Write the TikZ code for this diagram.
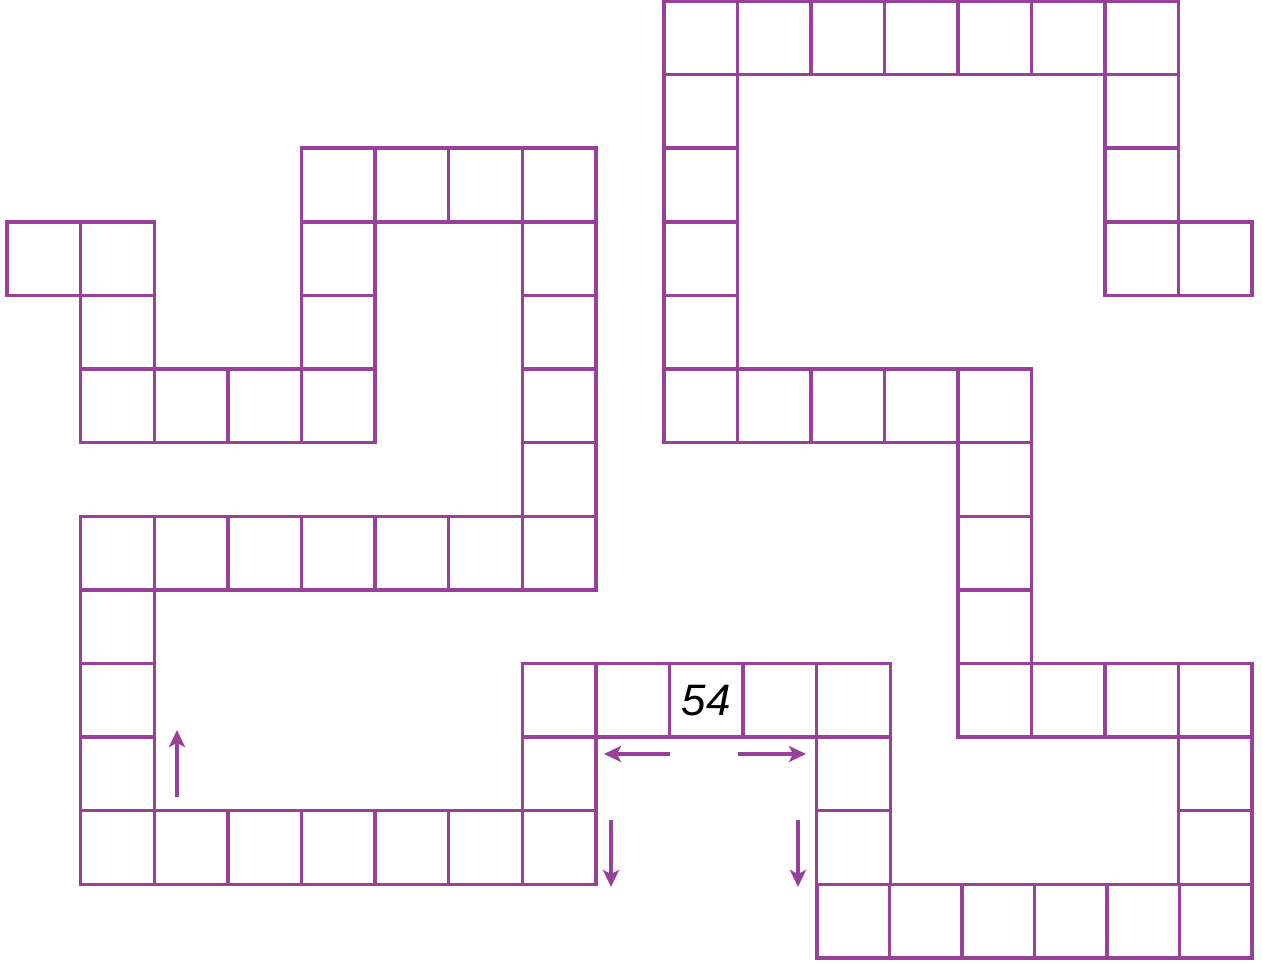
\documentclass[tikz,border=0pt]{standalone}
\usepackage{fontspec}
\newfontfamily\digitfont{Liberation Sans}
\usepackage{tikz}
\usetikzlibrary{arrows.meta,positioning}
\definecolor{boardpurple}{RGB}{153,64,155}

\begin{document}
\begin{tikzpicture}[
    x=1pt, y=-1pt,
    cell/.style={
        draw=boardpurple,
        line width=3.4pt,
        minimum width=73.6pt,
        minimum height=73.6pt,
        inner sep=0pt,
        outer sep=0pt,
        anchor=north west
    },
    narrowcell/.style={
        cell,
        minimum width=72.5pt
    },
    arr/.style={-{Stealth[length=17pt, width=16pt, inset=4pt]}, draw=boardpurple, line width=3.2pt}
]
    \useasboundingbox (0,0) rectangle (1262,963);

    %% Linke Haelfte des Spielfelds
    \foreach \c/\r in {0/3, 1/3, 1/4, 1/5, 2/5, 3/5, 4/5, 4/4, 4/3, 4/2, 5/2, 6/2, 7/2,
                       7/3, 7/4, 7/5, 7/6, 7/7, 6/7, 5/7, 4/7, 3/7, 2/7, 1/7,
                       1/8, 1/9, 1/10, 1/11, 2/11, 3/11, 4/11, 5/11, 6/11, 7/11,
                       7/10, 7/9, 8/9, 10/9, 11/9, 11/10, 11/11}
        \node[cell] (L-\c-\r) at ({7+73.6*\c}, {1+73.6*\r}) {};

    %% Feld mit Zahl
    \node[cell] (L-9-9) at ({7+73.6*9}, {1+73.6*9}) {};
    \node[font=\digitfont\itshape\fontsize{44}{44}\selectfont] (start) at (L-9-9.center) {54};

    %% Rechte Haelfte des Spielfelds
    \foreach \k/\r in {0/0, 1/0, 2/0, 3/0, 4/0, 5/0, 6/0, 6/1, 6/2, 6/3, 7/3,
                       0/1, 0/2, 0/3, 0/4, 0/5, 1/5, 2/5, 3/5, 4/5,
                       4/6, 4/7, 4/8, 4/9, 5/9, 6/9, 7/9, 7/10, 7/11}
        \node[cell] (R-\k-\r) at ({664+73.5*\k}, {1+73.6*\r}) {};

    %% Unterste Reihe
    \foreach \i in {0,...,5}
        \node[narrowcell] (B-\i) at ({817+72.5*\i}, 884.2) {};

    %% Pfeile
    \coordinate (leftfrom) at (670,754);
    \coordinate (leftto) at (604,754);
    \coordinate (rightfrom) at (738,754);
    \coordinate (rightto) at (806,754);
    \coordinate (downafrom) at (611,820);
    \coordinate (downato) at (611,887);
    \coordinate (downbfrom) at (798,820);
    \coordinate (downbto) at (798,887);
    \coordinate (upfrom) at (177,797);
    \coordinate (upto) at (177,730);

    \draw[arr] (leftfrom) -- (leftto);
    \draw[arr] (rightfrom) -- (rightto);
    \draw[arr] (downafrom) -- (downato);
    \draw[arr] (downbfrom) -- (downbto);
    \draw[arr] (upfrom) -- (upto);
\end{tikzpicture}
\end{document}
